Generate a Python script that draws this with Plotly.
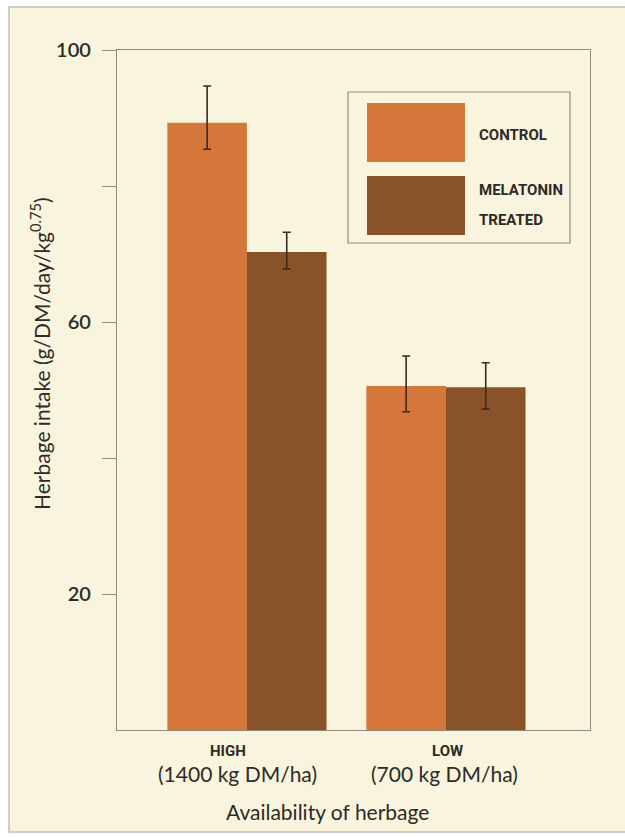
import plotly.graph_objects as go

# Herbage intake by availability of herbage, control vs melatonin treated
availability = ["HIGH", "LOW"]
availability_detail = ["(1400 kg DM/ha)", "(700 kg DM/ha)"]
series_names = ["CONTROL", "MELATONIN TREATED"]

control_intake = [89.3, 50.6]
control_err_plus = [5.4, 4.4]
control_err_minus = [3.9, 3.8]

melatonin_intake = [70.3, 50.4]
melatonin_err_plus = [2.9, 3.6]
melatonin_err_minus = [2.5, 3.2]

y_ticks = [20, 60, 100]
y_tick_text = ["20", "60", "100"]
y_minor_ticks = [40, 80]

CREAM = "#F8F4DD"
FRAME = "#928C7F"
TEXT = "#2F2A26"
ORANGE = "#D5773A"
BROWN = "#8A5229"
ERR = "#3A2A20"

W, H = 625, 837
L, R, T, B = 117, 35, 50, 107
PW, PH = W - L - R, H - T - B


def px_x(x):
    return (x - L) / PW


def px_y(y):
    return (H - B - y) / PH


fig = go.Figure()

fig.add_trace(go.Bar(
    x=availability, y=control_intake, name=series_names[0],
    marker=dict(color=ORANGE, line=dict(width=0)),
    error_y=dict(type="data", symmetric=False, array=control_err_plus,
                 arrayminus=control_err_minus, color=ERR, thickness=1.6, width=4),
    showlegend=False,
))
fig.add_trace(go.Bar(
    x=availability, y=melatonin_intake, name=series_names[1],
    marker=dict(color=BROWN, line=dict(width=0)),
    error_y=dict(type="data", symmetric=False, array=melatonin_err_plus,
                 arrayminus=melatonin_err_minus, color=ERR, thickness=1.6, width=4),
    showlegend=False,
))

shapes = [
    # page card with a thin grey edge
    dict(type="rect", xref="paper", yref="paper", layer="below",
         x0=px_x(9), x1=px_x(640), y0=px_y(832), y1=px_y(7),
         fillcolor=CREAM, line=dict(color="#C4BFB2", width=1.5)),
    # key box
    dict(type="rect", xref="paper", yref="paper",
         x0=px_x(348), x1=px_x(570), y0=px_y(243), y1=px_y(92),
         fillcolor="rgba(0,0,0,0)", line=dict(color=FRAME, width=1.2)),
    dict(type="rect", xref="paper", yref="paper",
         x0=px_x(367), x1=px_x(465), y0=px_y(162), y1=px_y(103),
         fillcolor=ORANGE, line=dict(width=0)),
    dict(type="rect", xref="paper", yref="paper",
         x0=px_x(367), x1=px_x(465), y0=px_y(235), y1=px_y(176),
         fillcolor=BROWN, line=dict(width=0)),
]

narrow = dict(family="Roboto, DejaVu Sans, sans-serif", size=15, color=TEXT)
humanist = dict(family="Lato, Open Sans, sans-serif", size=21, color=TEXT)

annotations = [
    dict(text="<b>" + series_names[0] + "</b>", x=px_x(477), y=px_y(135),
         xanchor="left", yanchor="middle", font=narrow),
    dict(text="<b>MELATONIN</b>", x=px_x(477), y=px_y(190),
         xanchor="left", yanchor="middle", font=narrow),
    dict(text="<b>TREATED</b>", x=px_x(477), y=px_y(220),
         xanchor="left", yanchor="middle", font=narrow),
    dict(text="Herbage intake (g/DM/day/kg<sup>0.75</sup>)", x=px_x(40),
         y=px_y(354), textangle=-90, xanchor="center", yanchor="middle",
         font=dict(family="Lato, Open Sans, sans-serif", size=21, color=TEXT)),
    dict(text="Availability of herbage", x=px_x(327), y=px_y(811),
         xanchor="center", yanchor="middle", font=humanist),
]

# category labels under each group
label_x = [228, 447]
detail_x = [237, 444]
for name, detail, lx, dx in zip(availability, availability_detail, label_x, detail_x):
    annotations.append(dict(text="<b>" + name + "</b>", x=px_x(lx), y=px_y(751),
                            xanchor="center", yanchor="middle", font=narrow))
    annotations.append(dict(text=detail, x=px_x(dx), y=px_y(773),
                            xanchor="center", yanchor="middle", font=humanist))

for a in annotations:
    a.update(xref="paper", yref="paper", showarrow=False)

fig.update_layout(
    width=W, height=H,
    margin=dict(l=L, r=R, t=T, b=B),
    paper_bgcolor="white",
    plot_bgcolor=CREAM,
    barmode="group", bargap=0.2, bargroupgap=0,
    shapes=shapes,
    annotations=annotations,
    xaxis=dict(range=[-0.653, 1.724], showticklabels=False, ticks="",
               showgrid=False, zeroline=False, showline=True, mirror=True,
               linecolor=FRAME, linewidth=1.2),
    yaxis=dict(range=[0, 100], tickvals=y_ticks, ticktext=y_tick_text,
               ticks="outside", ticklen=14, tickwidth=1.2, tickcolor=FRAME,
               ticklabelstandoff=7,
               minor=dict(tickvals=y_minor_ticks, ticks="outside", ticklen=14,
                          tickwidth=1.2, tickcolor=FRAME, showgrid=False),
               showgrid=False, zeroline=False, showline=True, mirror=True,
               linecolor=FRAME, linewidth=1.2,
               tickfont=dict(family="Lato, Open Sans, sans-serif", size=20,
                             color=TEXT, weight=600)),
)

fig.write_html("out.html")
